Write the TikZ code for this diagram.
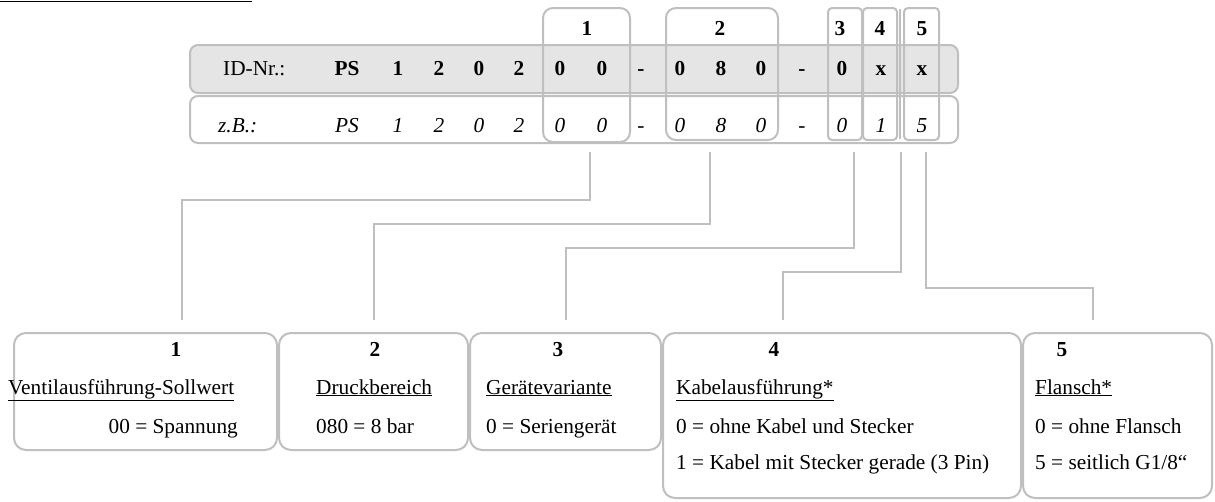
\documentclass[tikz,border=0pt]{standalone}
\usepackage{fontspec}
\setmainfont{Liberation Serif}
\begin{document}
\begin{tikzpicture}[x=1pt,y=-1pt,
  box/.style={draw=black!25, line width=2pt, inner sep=0pt},
  conn/.style={draw=black!25, line width=1.6pt},
  txt/.style={font=\fontsize{21.3}{25}\selectfont, inner sep=0pt},
  bt/.style={txt, font=\fontsize{21.3}{25}\selectfont\bfseries},
  it/.style={txt, font=\fontsize{21.3}{25}\selectfont\itshape}
]
\useasboundingbox (0,0) rectangle (1215,501);
% cut-off heading underline
\draw[line width=1.5pt] (0,1.5) -- (252,1.5);

% rows
\node[box, fill=black!10, rounded corners=8pt, minimum width=768pt, minimum height=48pt] (row1) at (574,69) {};
\node[box, rounded corners=8pt, minimum width=768pt, minimum height=47pt] (row2) at (574,119.5) {};

% group boxes
\node[box, rounded corners=10pt, minimum width=87pt, minimum height=134pt] (g1) at (586.5,75) {};
\node[box, rounded corners=10pt, minimum width=112pt, minimum height=132pt] (g2) at (722,74) {};
\node[box, rounded corners=4pt, minimum width=34pt, minimum height=132pt] (g3) at (845,74) {};
\node[box, rounded corners=4pt, minimum width=34pt, minimum height=132pt] (g4) at (880,74) {};
\node[box, rounded corners=4pt, minimum width=35pt, minimum height=132pt] (g5) at (921.5,74) {};
\draw[box] (899.5,9) -- (899.5,139);

% header numbers
\node[bt, anchor=base] (n1) at (587,35) {1};
\node[bt, anchor=base] (n2) at (720,35) {2};
\node[bt, anchor=base] (n3) at (840,35) {3};
\node[bt, anchor=base] (n4) at (880,35) {4};
\node[bt, anchor=base] (n5) at (922,35) {5};

% row texts
\node[txt, anchor=base west] (id) at (223,75) {ID-Nr.:};
\node[it, anchor=base west] (zb) at (218,132) {z.B.:};
\foreach \x/\a/\b [count=\i] in {347/PS/PS, 398/1/1, 439/2/2, 479/0/0, 519/2/2, 560/0/0, 602/0/0, 641/-/-, 680/0/0, 721/8/8, 761/0/0, 802/-/-, 842/0/0, 881/x/1, 922/x/5}{
  \node[bt, anchor=base] (ra\i) at (\x,75) {\a};
  \node[it, anchor=base] (rb\i) at (\x,132) {\b};
}

% bottom boxes
\node[box, rounded corners=12pt, minimum width=263pt, minimum height=117pt] (b1) at (145.5,391.5) {};
\node[box, rounded corners=12pt, minimum width=189pt, minimum height=117pt] (b2) at (373.5,391.5) {};
\node[box, rounded corners=12pt, minimum width=191pt, minimum height=117pt] (b3) at (565.5,391.5) {};
\node[box, rounded corners=12pt, minimum width=358pt, minimum height=165pt] (b4) at (842,415.5) {};
\node[box, rounded corners=12pt, minimum width=189pt, minimum height=165pt] (b5) at (1117.5,415.5) {};

% bottom texts
\node[bt, anchor=base] (h1) at (176,356) {1};
\node[txt, anchor=base west] (t1) at (8,394) {\underline{Ventilausführung-Sollwert}};
\node[txt, anchor=base east] (v1) at (238,433) {00 = Spannung};

\node[bt, anchor=base] (h2) at (375,356) {2};
\node[txt, anchor=base west] (t2) at (316,394) {\underline{Druckbereich}};
\node[txt, anchor=base west] (v2) at (316,433) {080 = 8 bar};

\node[bt, anchor=base] (h3) at (558,356) {3};
\node[txt, anchor=base west] (t3) at (486,394) {\underline{Gerätevariante}};
\node[txt, anchor=base west] (v3) at (486,433) {0 = Seriengerät};

\node[bt, anchor=base] (h4) at (774,356) {4};
\node[txt, anchor=base west] (t4) at (676,394) {\underline{Kabelausführung*}};
\node[txt, anchor=base west] (v4a) at (676,433) {0 = ohne Kabel und Stecker};
\node[txt, anchor=base west] (v4b) at (676,469) {1 = Kabel mit Stecker gerade (3 Pin)};

\node[bt, anchor=base] (h5) at (1062,356) {5};
\node[txt, anchor=base west] (t5) at (1035,394) {\underline{Flansch*}};
\node[txt, anchor=base west] (v5a) at (1035,433) {0 = ohne Flansch};
\node[txt, anchor=base west] (v5b) at (1035,469) {5 = seitlich G1/8“};

% connectors
\coordinate (s1) at (590,152); \coordinate (e1) at (182,320);
\coordinate (s2) at (710,152); \coordinate (e2) at (374,320);
\coordinate (s3) at (854,152); \coordinate (e3) at (566,320);
\coordinate (s4) at (901,152); \coordinate (e4) at (783,320);
\coordinate (s5) at (926,152); \coordinate (e5) at (1093,320);
\draw[conn] (s1) -- (s1 |- 0,200) -| (e1);
\draw[conn] (s2) -- (s2 |- 0,224) -| (e2);
\draw[conn] (s3) -- (s3 |- 0,248) -| (e3);
\draw[conn] (s4) -- (s4 |- 0,272) -| (e4);
\draw[conn] (s5) -- (s5 |- 0,288) -| (e5);
\end{tikzpicture}
\end{document}
